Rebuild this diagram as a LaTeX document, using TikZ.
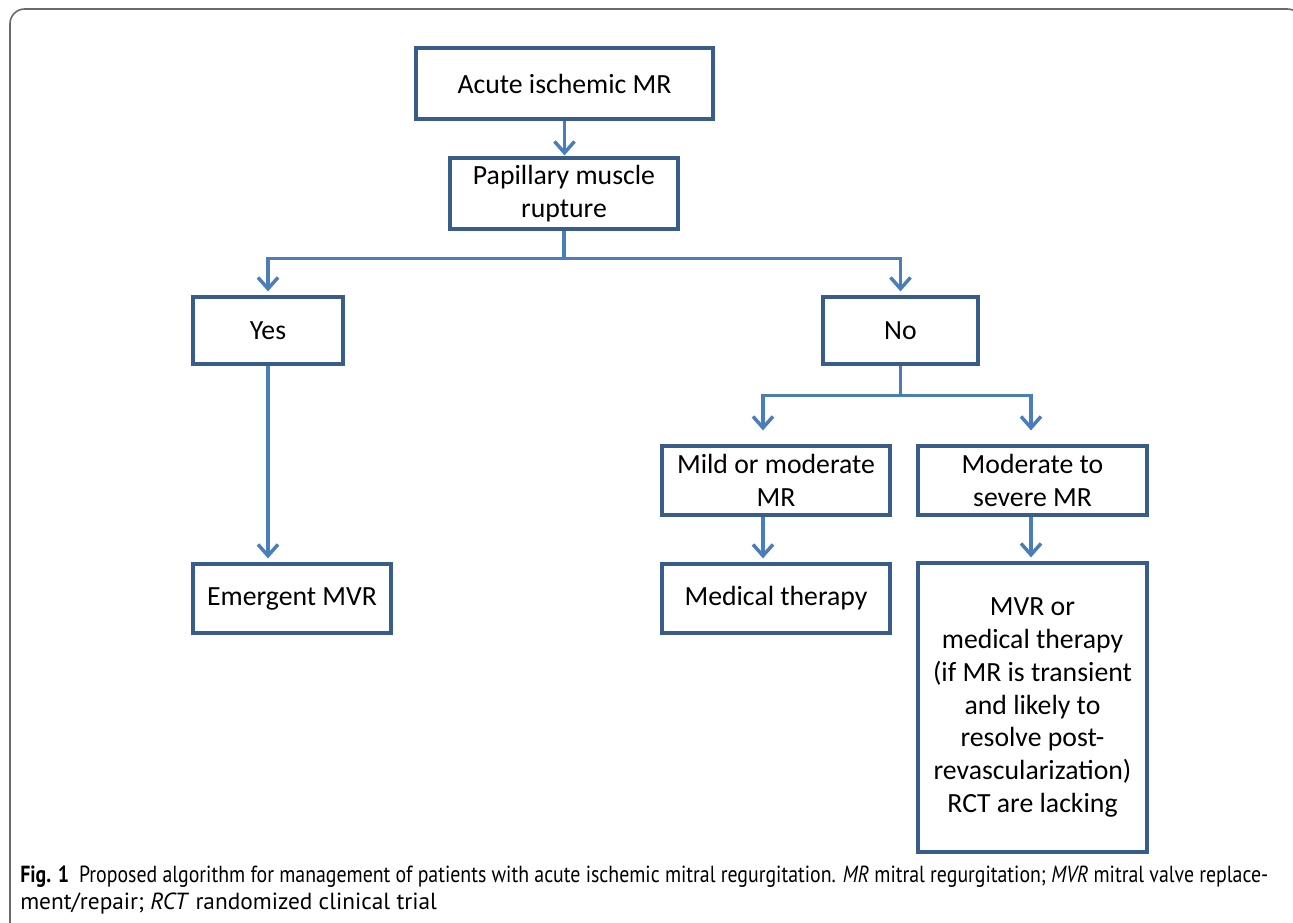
\documentclass[tikz,border=0pt]{standalone}
\usepackage{fontspec}
\usepackage{graphicx}
\usetikzlibrary{arrows.meta,calc}
\newfontfamily\boxfont{Carlito}
\newfontfamily\capfont{PT Sans}
\definecolor{boxc}{HTML}{385D8A}
\definecolor{connc}{HTML}{4A7EBB}
\definecolor{framec}{HTML}{6A6A6A}
\tikzset{
  fcbox/.style={draw=boxc, line width=2.4pt, inner sep=0pt, align=center,
    font=\boxfont\fontsize{20.8}{24.6}\selectfont, text=black},
  conn/.style={draw=connc, line width=2.6pt,
    -{Straight Barb[length=8.5pt,width=15pt,line width=2.6pt]}},
  connline/.style={draw=connc, line width=2.6pt},
  frameline/.style={draw=framec, line width=1.2pt, rounded corners=11pt},
  capt/.style={anchor=base west, inner sep=0pt, font=\capfont\fontsize{17.5}{20}\selectfont}
}
\begin{document}
\begin{tikzpicture}[x=0.75pt,y=-0.75pt]
\useasboundingbox (0,0) rectangle (1293,922);
\clip (0,0) rectangle (1293,922);
\draw[frameline] (10,940) -- (10,9) -- (1302,9) -- (1302,60);

% boxes
\node[fcbox, minimum width={297*0.75pt}, minimum height={71*0.75pt}] (acute) at (564.5,83.5) {Acute ischemic MR};
\node[fcbox, minimum width={228*0.75pt}, minimum height={71*0.75pt}] (pap) at (564,193.5) {Papillary muscle\\rupture};
\node[fcbox, minimum width={150*0.75pt}, minimum height={67*0.75pt}] (yes) at (268,330.5) {Yes};
\node[fcbox, minimum width={155*0.75pt}, minimum height={67*0.75pt}] (no) at (900.5,330.5) {No};
\node[fcbox, minimum width={198*0.75pt}, minimum height={69*0.75pt}] (emerg) at (292,598.5) {Emergent MVR};
\node[fcbox, minimum width={228*0.75pt}, minimum height={69*0.75pt}] (mild) at (776,480.5) {Mild or moderate\\MR};
\node[fcbox, minimum width={229*0.75pt}, minimum height={69*0.75pt}] (modsev) at (1032.5,480.5) {Moderate to\\severe MR};
\node[fcbox, minimum width={228*0.75pt}, minimum height={69*0.75pt}] (med) at (776,598.5) {Medical therapy};
\node[fcbox, minimum width={229*0.75pt}, minimum height={289*0.75pt}] (mvr) at (1032.5,707.5)
  {MVR or\\medical therapy\\(if MR is transient\\and likely to\\resolve post-\\revascularization)\\RCT are lacking};

% junctions
\coordinate (j1) at ($(pap.south)+(0,28)$);
\coordinate (j2) at ($(no.south)+(0,30)$);

% connectors
\draw[conn, shorten >=0.75pt] (acute.south) -- (acute.south |- pap.north);
\draw[connline] (pap.south) -- (j1);
\draw[conn, shorten >=3pt] (j1) -| (yes.north);
\draw[conn, shorten >=3pt] (j1) -| (no.north);
\draw[conn, shorten >=3pt] (yes.south) -- (yes.south |- emerg.north);
\draw[connline] (no.south) -- (j2);
\draw[conn, shorten >=10.5pt] (j2) -| ($(mild.north)+(-13,0)$);
\draw[conn, shorten >=10.5pt] (j2) -| ($(modsev.north)+(-1.5,0)$);
\draw[conn, shorten >=3pt] ($(mild.south)+(-13,0)$) -- ($(med.north)+(-13,0)$);
\draw[conn, shorten >=3pt] ($(modsev.south)+(-1.5,0)$) -- ($(mvr.north)+(-1.5,0)$);

% caption
\node[capt] (cap1) at (20,882) {\resizebox{936pt}{\height}{\textbf{Fig. 1}\enspace Proposed algorithm for management of patients with acute ischemic mitral regurgitation. \textit{MR} mitral regurgitation; \textit{MVR} mitral valve replace-}};
\node[capt] (cap2) at (20,909) {ment/repair; \textit{RCT} randomized clinical trial};
\end{tikzpicture}
\end{document}
